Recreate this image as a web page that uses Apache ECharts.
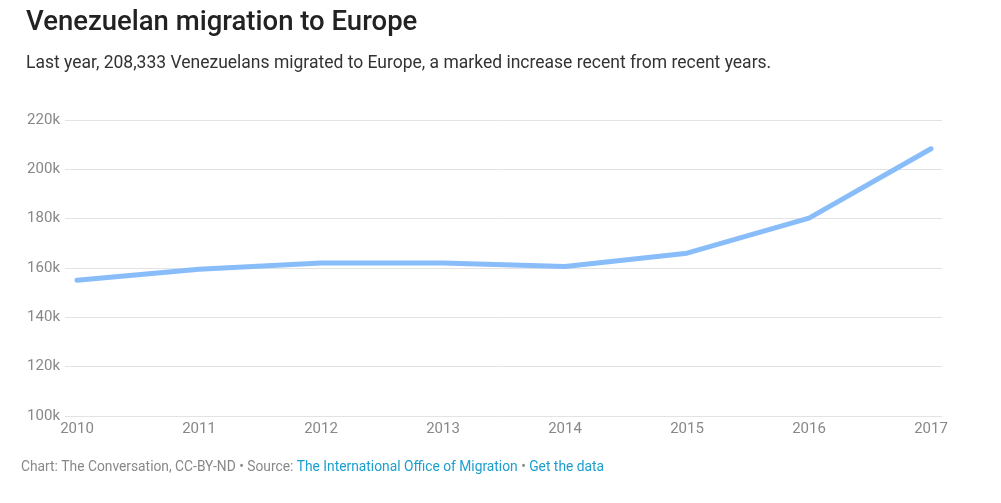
<!DOCTYPE html>
<html>
<head>
<meta charset="utf-8">
<script src="https://cdn.jsdelivr.net/npm/echarts@6/dist/echarts.min.js"></script>
<style>
  html, body { margin: 0; padding: 0; background: #fff; }
  #chart { width: 1001px; height: 503px; }
</style>
</head>
<body>
<div id="chart"></div>
<script>
var years = [2010, 2011, 2012, 2013, 2014, 2015, 2016, 2017];
var migrants = [155000, 159500, 162000, 162000, 160600, 166000, 180200, 208333];
var yTicks = [100000, 120000, 140000, 160000, 180000, 200000, 220000];

window.onload = function () {
    let chart = echarts.init(document.querySelector('#chart'));
    let points = years.map(function (y, i) { return [y, migrants[i]]; });
    let option = {
        textStyle: { fontFamily: 'Roboto' },
        title: [
            {
                text: 'Venezuelan migration to Europe',
                left: 21,
                top: 4,
                textStyle: { fontSize: 27.5, fontWeight: 500, color: '#222', fontFamily: 'Roboto' }
            },
            {
                text: 'Last year, 208,333 Venezuelans migrated to Europe, a marked increase recent from recent years.',
                left: 21,
                top: 50,
                textStyle: { fontSize: 17.5, fontWeight: 'normal', color: '#333', fontFamily: 'Roboto' }
            },
            {
                text: '{a|Chart: The Conversation, CC-BY-ND • Source: }{b|The International Office of Migration}{a| • }{b|Get the data}',
                left: 16,
                top: 456,
                textStyle: {
                    fontWeight: 'normal',
                    rich: {
                        a: { fontSize: 13.8, fontWeight: 'normal', color: '#888', fontFamily: 'Roboto' },
                        b: { fontSize: 13.8, fontWeight: 'normal', color: '#1a9fcf', fontFamily: 'Roboto' }
                    }
                }
            }
        ],
        grid: {
            left: 65,
            right: 59,
            top: 120,
            bottom: 87
        },
        xAxis: {
            type: 'value',
            min: 2009.9016,
            max: 2017.0902,
            axisLine: { show: false },
            axisTick: { show: false },
            splitLine: { show: false },
            axisLabel: {
                customValues: years,
                color: '#888',
                fontSize: 15,
                margin: 6,
                formatter: function (v) { return String(v); }
            }
        },
        yAxis: {
            type: 'value',
            min: 100000,
            max: 220000,
            interval: 20000,
            axisLine: { show: false },
            axisTick: { show: false },
            splitLine: { lineStyle: { color: '#e3e3e3', width: 1 } },
            axisLabel: {
                color: '#888',
                fontSize: 15,
                margin: 5,
                formatter: function (v) { return (v / 1000) + 'k'; }
            }
        },
        series: [
            {
                type: 'line',
                data: points,
                symbol: 'none',
                lineStyle: { color: '#88bdfa', width: 5, cap: 'round', join: 'round' },
                animation: false
            }
        ]
    };
    chart.setOption(option);
};
</script>
</body>
</html>
